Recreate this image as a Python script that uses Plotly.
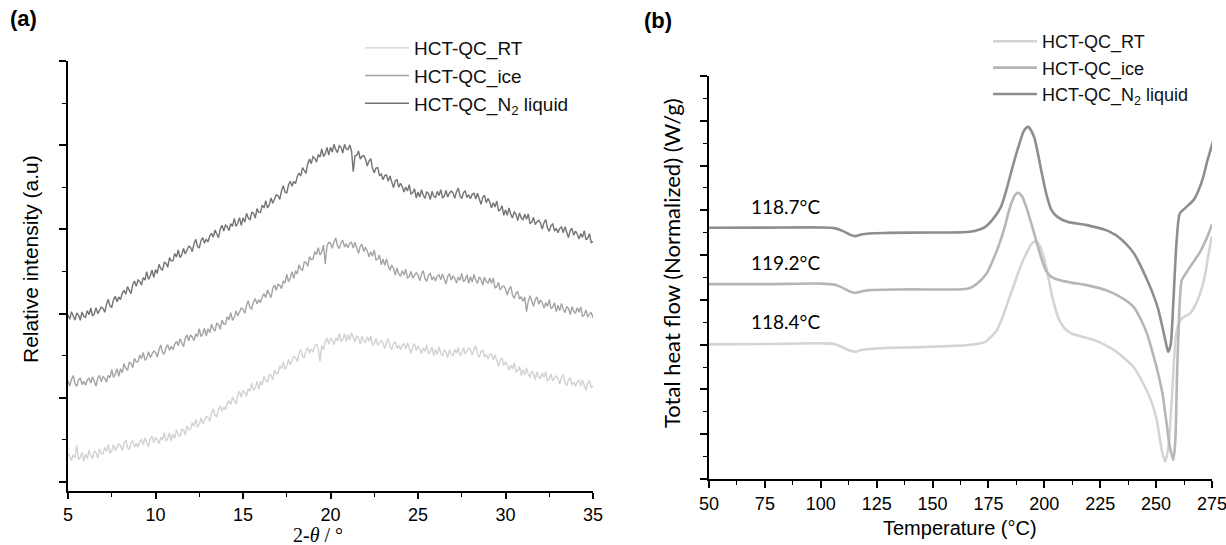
import plotly.graph_objects as go

# ---------------- Panel (a): XRD (2-theta step 0.1 deg) ----------------
two_theta = [round(5 + 0.1 * i, 1) for i in range(301)]

xrd_n2 = [716, 702, 725, 709, 700, 721, 715, 699, 724, 711,
          708, 728, 716, 736, 712, 718, 737, 719, 731, 739,
          735, 723, 747, 762, 742, 738, 761, 771, 755, 769,
          761, 780, 789, 777, 800, 789, 779, 806, 817, 801,
          820, 816, 805, 827, 820, 845, 822, 832, 850, 828,
          851, 840, 867, 854, 849, 873, 871, 858, 887, 877,
          878, 899, 889, 910, 887, 895, 915, 898, 912, 921,
          918, 905, 928, 942, 921, 916, 938, 947, 930, 943,
          934, 952, 960, 948, 970, 958, 947, 973, 984, 967,
          985, 980, 968, 989, 981, 1005, 981, 990, 1007, 984,
          1006, 994, 1020, 1006, 1000, 1023, 1020, 1006, 1034, 1023,
          1023, 1045, 1036, 1058, 1036, 1045, 1066, 1050, 1065, 1075,
          1073, 1062, 1087, 1103, 1084, 1081, 1105, 1116, 1101, 1116,
          1109, 1130, 1141, 1132, 1157, 1148, 1140, 1169, 1183, 1169,
          1190, 1185, 1174, 1196, 1189, 1213, 1190, 1199, 1218, 1195,
          1218, 1204, 1227, 1211, 1202, 1223, 1218, 1201, 1227, 1213,
          1211, 1225, 1208, 1145, 1193, 1194, 1207, 1183, 1191, 1193,
          1183, 1162, 1177, 1184, 1155, 1142, 1156, 1157, 1133, 1138,
          1121, 1133, 1135, 1116, 1132, 1114, 1097, 1117, 1121, 1098,
          1110, 1100, 1084, 1099, 1087, 1106, 1078, 1082, 1094, 1066,
          1084, 1069, 1091, 1074, 1065, 1085, 1079, 1061, 1086, 1071,
          1068, 1086, 1073, 1091, 1066, 1071, 1089, 1069, 1081, 1087,
          1081, 1065, 1085, 1096, 1072, 1064, 1082, 1087, 1067, 1076,
          1064, 1077, 1080, 1063, 1080, 1063, 1047, 1068, 1074, 1052,
          1065, 1054, 1037, 1052, 1039, 1057, 1028, 1031, 1043, 1014,
          1031, 1014, 1036, 1017, 1006, 1025, 1017, 998, 1021, 1006,
          1001, 1017, 1002, 1018, 990, 993, 1008, 986, 995, 999,
          991, 973, 992, 1001, 976, 966, 984, 988, 967, 975,
          962, 975, 979, 962, 980, 963, 947, 969, 975, 954,
          967, 958, 943, 959, 948, 968, 941, 946, 959, 932,
          935]

xrd_ice = [518, 502, 522, 533, 509, 501, 520, 526, 506, 516,
           504, 520, 525, 511, 530, 516, 502, 526, 534, 515,
           530, 525, 514, 534, 527, 551, 528, 537, 554, 531,
           554, 542, 569, 555, 549, 573, 570, 557, 585, 574,
           575, 595, 584, 603, 579, 586, 605, 587, 599, 607,
           603, 589, 611, 625, 603, 597, 618, 626, 609, 621,
           611, 628, 636, 623, 644, 632, 620, 645, 655, 638,
           655, 649, 638, 658, 650, 674, 650, 658, 675, 652,
           674, 662, 687, 673, 667, 690, 686, 672, 700, 688,
           688, 710, 700, 722, 699, 708, 728, 712, 726, 736,
           733, 720, 744, 758, 737, 733, 755, 764, 748, 761,
           752, 770, 779, 767, 790, 778, 767, 794, 805, 789,
           807, 804, 794, 817, 811, 837, 815, 826, 845, 824,
           848, 838, 866, 853, 849, 874, 873, 861, 890, 881,
           883, 905, 896, 917, 895, 904, 925, 868, 923, 933,
           931, 915, 935, 946, 922, 914, 933, 939, 919, 929,
           917, 930, 933, 916, 933, 916, 900, 921, 927, 905,
           918, 907, 890, 905, 892, 910, 880, 883, 895, 866,
           883, 864, 883, 862, 849, 865, 856, 835, 856, 838,
           831, 848, 835, 852, 826, 830, 846, 826, 836, 842,
           835, 818, 838, 848, 824, 816, 835, 840, 820, 830,
           817, 831, 836, 821, 838, 823, 808, 831, 839, 819,
           833, 825, 811, 829, 819, 840, 815, 821, 836, 810,
           830, 814, 837, 819, 810, 829, 822, 805, 829, 815,
           811, 826, 810, 826, 797, 799, 813, 790, 799, 802,
           793, 775, 792, 801, 775, 765, 781, 785, 763, 770,
           756, 769, 725, 756, 773, 757, 741, 762, 769, 747,
           760, 751, 736, 752, 741, 761, 734, 739, 752, 725,
           744, 728, 750, 732, 722, 741, 734, 716, 740, 725,
           721, 737, 723, 739, 711, 715, 730, 709, 718, 722,
           706]

xrd_rt = [300, 292, 278, 296, 286, 324, 281, 288, 303, 277,
          298, 284, 309, 293, 285, 307, 302, 286, 313, 300,
          298, 318, 306, 326, 301, 308, 326, 308, 320, 328,
          323, 308, 329, 341, 318, 311, 331, 338, 319, 330,
          319, 335, 341, 326, 346, 332, 319, 343, 351, 332,
          348, 341, 329, 348, 340, 362, 337, 345, 361, 337,
          358, 346, 371, 357, 350, 373, 370, 355, 383, 371,
          371, 392, 381, 402, 379, 387, 406, 389, 403, 411,
          408, 396, 419, 434, 414, 410, 432, 442, 426, 439,
          431, 450, 458, 447, 469, 458, 448, 474, 486, 469,
          488, 483, 472, 494, 487, 511, 488, 497, 516, 493,
          516, 505, 531, 518, 513, 537, 534, 521, 550, 539,
          540, 562, 553, 574, 552, 561, 582, 566, 580, 590,
          588, 575, 598, 612, 591, 586, 608, 617, 600, 613,
          604, 621, 628, 615, 576, 623, 611, 636, 646, 628,
          645, 639, 626, 646, 637, 660, 635, 643, 659, 635,
          656, 640, 662, 644, 634, 653, 646, 628, 652, 637,
          633, 650, 636, 652, 625, 629, 645, 624, 633, 638,
          631, 614, 634, 644, 620, 611, 629, 635, 614, 624,
          611, 625, 629, 613, 631, 615, 600, 622, 629, 608,
          622, 613, 599, 616, 606, 626, 599, 605, 619, 593,
          612, 596, 619, 601, 592, 611, 604, 587, 611, 597,
          593, 612, 600, 618, 593, 599, 617, 598, 609, 616,
          611, 594, 612, 622, 597, 588, 605, 610, 589, 597,
          584, 596, 598, 580, 596, 578, 561, 581, 586, 563,
          575, 565, 549, 565, 553, 572, 544, 548, 561, 533,
          551, 535, 556, 538, 528, 547, 539, 521, 545, 529,
          525, 542, 528, 545, 518, 522, 538, 517, 527, 532,
          525, 508, 527, 537, 512, 503, 521, 526, 505, 514,
          501, 515, 519, 502, 520, 504, 489, 511, 518, 496,
          503]

# ---------------- Panel (b): DSC ----------------
t_n2 = [50, 75, 100, 106, 110, 113, 115.3, 118, 121.4, 130, 150, 166.7, 173.6, 177,
        180.6, 183, 185.8, 188.5, 191, 192.8, 195.4, 197, 198.9, 201, 203.2, 206,
        210.2, 218.9, 227.6, 232, 236.3, 240, 243.3, 246, 248.5, 250.8, 252.8,
        254.3, 255.4, 256.5, 257.3, 258.2, 259.2, 260.6, 263, 266.7, 269, 271.1,
        273, 275.4]
hf_n2 = [2.805, 2.807, 2.809, 2.801, 2.768, 2.729, 2.712, 2.729, 2.742, 2.748, 2.753,
         2.760, 2.816, 2.902, 3.039, 3.225, 3.486, 3.717, 3.895, 3.932, 3.820, 3.650,
         3.412, 3.170, 3.002, 2.924, 2.872, 2.835, 2.779, 2.723, 2.631, 2.522, 2.369,
         2.221, 2.073, 1.908, 1.700, 1.529, 1.421, 1.496, 1.775, 2.221, 2.667, 2.965,
         3.025, 3.114, 3.225, 3.374, 3.560, 3.765]

t_ice = [50, 75, 100, 106, 110, 113, 115.5, 118, 121.4, 140, 166, 170, 174, 177, 180,
         182.3, 184, 185.8, 187.2, 188.4, 190, 191.9, 194, 196.3, 198.5, 200.6, 203,
         206.7, 212, 218.9, 227.6, 236.3, 240, 243.3, 246, 248.5, 250.3, 252.8, 254.5,
         256, 257.7, 258.6, 259.3, 260, 261.5, 263.7, 265.2, 269.7, 273.5, 275]
hf_ice = [2.176, 2.176, 2.182, 2.171, 2.132, 2.093, 2.079, 2.093, 2.109, 2.117, 2.128,
          2.184, 2.288, 2.444, 2.634, 2.816, 2.980, 3.114, 3.181, 3.195, 3.158, 3.039,
          2.868, 2.667, 2.478, 2.333, 2.260, 2.221, 2.193, 2.165, 2.109, 1.998, 1.920,
          1.775, 1.618, 1.406, 1.239, 0.960, 0.658, 0.379, 0.212, 0.435, 1.105, 1.629,
          2.221, 2.310, 2.369, 2.537, 2.742, 2.846]

t_rt = [50, 75, 100, 106, 110, 113, 115.5, 118, 125, 145, 166, 173.6, 176.5, 178.8,
        181.5, 184, 186.7, 189.3, 192, 194.5, 196, 197.5, 199.7, 201.5, 203.2, 205,
        206.7, 209, 212, 222.4, 231.1, 239.8, 245, 248, 250.3, 252.5, 254, 255.5, 257,
        259, 260.8, 263, 265.2, 267.5, 269.7, 271.8, 273.5, 275]
hf_rt = [1.503, 1.507, 1.515, 1.507, 1.468, 1.434, 1.421, 1.440, 1.459, 1.473, 1.496,
         1.532, 1.596, 1.663, 1.819, 1.998, 2.188, 2.369, 2.522, 2.631, 2.651, 2.623,
         2.481, 2.288, 2.073, 1.897, 1.775, 1.685, 1.626, 1.551, 1.440, 1.253, 1.030,
         0.859, 0.658, 0.324, 0.193, 0.361, 0.882, 1.626, 1.775, 1.819, 1.849, 1.942,
         2.073, 2.266, 2.519, 2.712]

tg_labels = ["118.7°C", "119.2°C", "118.4°C"]
tg_label_x = [84.4, 84.4, 84.4]
tg_label_y = [3.04, 2.42, 1.76]

names = ["HCT-QC_RT", "HCT-QC_ice", "HCT-QC_N<sub>2</sub> liquid"]
col_a = ["#d2d2d2", "#a4a4a4", "#747474"]
col_b = ["#d4d4d4", "#b6b6b6", "#8e8e8e"]

W, H = 1226, 545
def px_x(p): return p / W
def px_y(p): return (H - p) / H

fig = go.Figure()
for ys, nm, c in zip([xrd_rt, xrd_ice, xrd_n2], names, col_a):
    fig.add_trace(go.Scatter(x=two_theta, y=ys, name=nm, mode="lines",
                             line=dict(color=c, width=1.4), xaxis="x", yaxis="y",
                             legend="legend"))
for xs, ys, nm, c in zip([t_rt, t_ice, t_n2], [hf_rt, hf_ice, hf_n2], names, col_b):
    fig.add_trace(go.Scatter(x=xs, y=ys, name=nm, mode="lines",
                             line=dict(color=c, width=2.6, shape="spline", smoothing=0.7),
                             xaxis="x2", yaxis="y2", legend="legend2"))

tickfont = dict(family="Liberation Sans, Arial", size=18, color="black")
axcommon = dict(showline=True, linecolor="black", linewidth=2, ticks="outside",
                tickwidth=1.6, ticklen=7, tickcolor="black", showgrid=False,
                zeroline=False, tickfont=tickfont, automargin=False)

fig.update_layout(
    width=W, height=H, margin=dict(l=0, r=0, t=0, b=0, pad=0, autoexpand=False),
    paper_bgcolor="white", plot_bgcolor="white", showlegend=True,
    xaxis=dict(domain=[px_x(68), px_x(593)], range=[5, 35], dtick=5, tick0=5,
               minor=dict(ticks="outside", ticklen=4, dtick=2.5, tickcolor="black", tickwidth=1.4),
               anchor="y", **{**axcommon, "ticklen": 6}),
    yaxis=dict(domain=[px_y(491), px_y(61)], range=[187, 1477], tick0=214, dtick=252.6,
               showticklabels=False,
               minor=dict(ticks="outside", ticklen=4, tick0=214, dtick=126.3, tickcolor="black", tickwidth=1.4),
               anchor="x", **axcommon),
    xaxis2=dict(domain=[px_x(709), px_x(1212)], range=[50, 275], dtick=25, tick0=50,
                ticklabeloverflow="allow",
                minor=dict(ticks="outside", ticklen=4, dtick=12.5, tickcolor="black", tickwidth=1.4),
                anchor="y2", **axcommon),
    yaxis2=dict(domain=[px_y(479), px_y(76)], range=[0, 4.5], dtick=0.5, tick0=0,
                showticklabels=False,
                minor=dict(ticks="outside", ticklen=4, dtick=0.25, tickcolor="black", tickwidth=1.4),
                anchor="x2", **axcommon),
    legend=dict(x=px_x(360), y=px_y(29), xanchor="left", yanchor="top",
                bgcolor="rgba(0,0,0,0)", font=dict(family="Liberation Sans, Arial", size=19, color="#111"),
                itemwidth=44, tracegroupgap=0),
    legend2=dict(x=px_x(988), y=px_y(23), xanchor="left", yanchor="top",
                 bgcolor="rgba(0,0,0,0)", font=dict(family="Liberation Sans, Arial", size=18, color="#111"),
                 itemwidth=44, tracegroupgap=0),
)

def note(text, x, y, size, family, angle=0):
    return dict(text=text, x=px_x(x), y=px_y(y), xref="paper", yref="paper",
                xanchor="center", yanchor="middle", showarrow=False, textangle=angle,
                font=dict(family=family, size=size, color="black"))

ann = [
    note("<b>(a)</b>", 24, 19, 22, "Liberation Sans, Arial"),
    note("<b>(b)</b>", 658, 21, 22, "Liberation Sans, Arial"),
    note("2-<i>θ</i> / °", 318, 535, 20, "Liberation Serif, Times New Roman"),
    note("Relative intensity (a.u)", 30, 259, 21, "Liberation Sans, Arial", -90),
    note("Temperature (°C)", 960, 528, 20, "Liberation Sans, Arial"),
    note("Total heat flow (Normalized) (W/g)", 671, 263, 22, "Lato, Liberation Sans", -90),
]
for t, xx, yy in zip(tg_labels, tg_label_x, tg_label_y):
    ann.append(dict(text=t, x=xx, y=yy, xref="x2", yref="y2", showarrow=False,
                    xanchor="center", yanchor="middle",
                    font=dict(family="Lato, Liberation Sans", size=19, color="black")))
fig.update_layout(annotations=ann)

fig.write_html("out.html", config={"displayModeBar": False},
               post_script="document.body.style.margin='0px';"
                           "document.body.style.padding='0px';"
                           "document.body.style.overflow='hidden';")
